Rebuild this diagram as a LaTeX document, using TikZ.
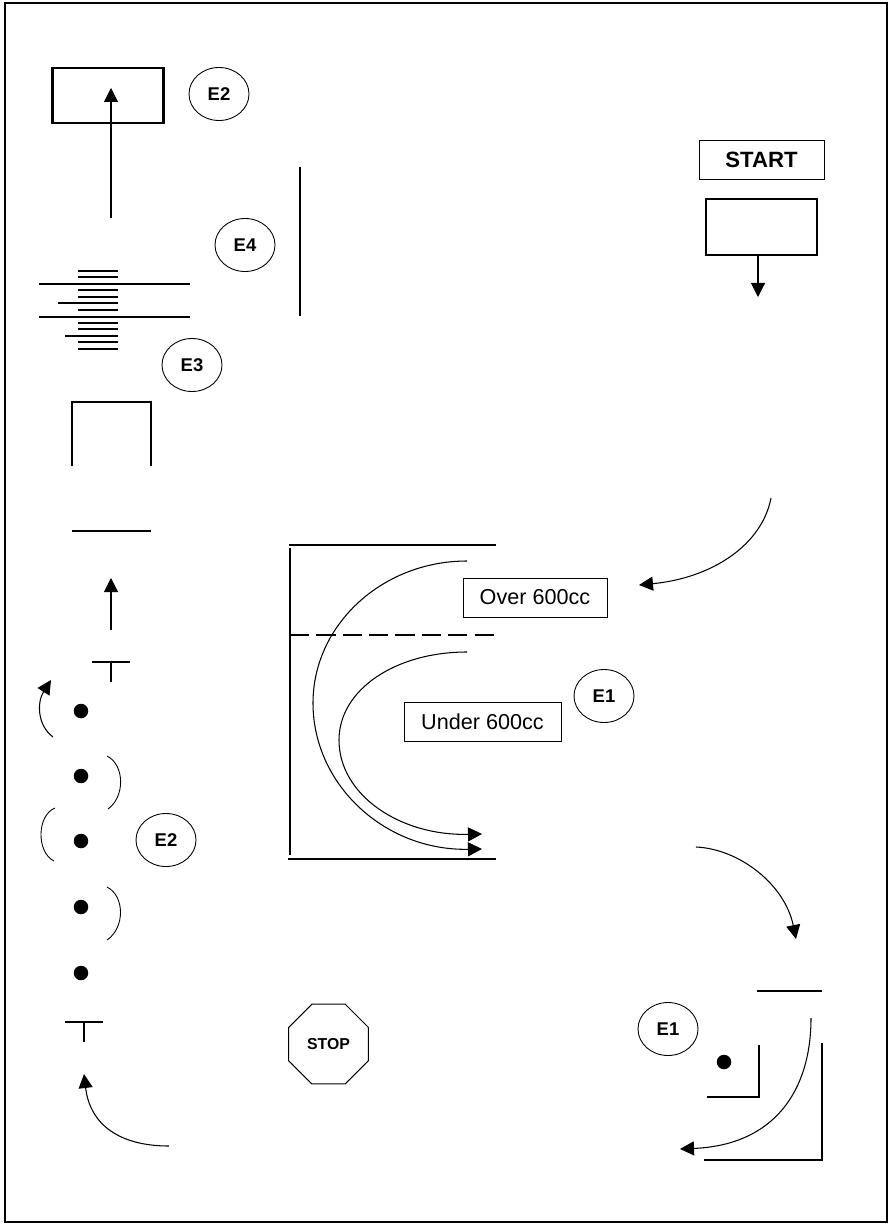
\documentclass[tikz,border=0pt]{standalone}
\usepackage{fontspec}
\setmainfont{Liberation Sans}
\usetikzlibrary{arrows.meta,shapes.geometric}

\begin{document}
\begin{tikzpicture}[x=0.2mm, y=-0.2mm,
    every node/.style={font=\fontsize{12.3pt}{14pt}\selectfont},
    tag/.style={draw, ellipse, line width=0.5pt, minimum width=12mm, minimum height=10.6mm,
                inner sep=0pt, font=\fontsize{10.5pt}{12pt}\selectfont\bfseries},
    block/.style={draw, line width=1.3pt, minimum width=22.2mm, minimum height=11.1mm},
    label/.style={draw, line width=0.45pt, inner sep=0pt, minimum height=7.8mm},
    dot/.style={circle, fill=black, inner sep=0pt, minimum size=2.9mm},
    stopsign/.style={draw, regular polygon, regular polygon sides=8, line width=0.6pt,
                     minimum size=17.3mm, inner sep=0pt,
                     font=\fontsize{9pt}{10pt}\selectfont\bfseries},
    thick line/.style={line width=1.1pt},
    rung/.style={line width=0.8pt},
    arr/.style={-{Triangle[length=2.8mm, width=2.8mm]}, line width=0.6pt}]
  \useasboundingbox (0,0) rectangle (893,1226);
  \draw[line width=1.1pt] (5,3) rectangle (887,1222);

  % start
  \node[label, minimum width=25mm, font=\fontsize{12.6pt}{14pt}\selectfont\bfseries] (start) at (761.5,160) {START};
  \node[block] (top) at (761.5,227) {};
  \coordinate (topend) at (758,297);
  \draw[arr] (top.south -| topend) -- (topend);

  % upper left
  \node[block] (exit) at (108,95.5) {};
  \node[tag] (e2a) at (219,94) {E2};
  \coordinate (rise) at (111,218);
  \coordinate (risetip) at (111,88);
  \draw[arr] (rise) -- (risetip);
  \node[tag] (e4) at (245,245) {E4};
  \node[tag] (e3) at (192,365) {E3};
  \draw[thick line] (300,167) -- (300,316);

  % stack of plates
  \foreach \y in {271,277,290,297,310,323,329,342,349}
    \draw[rung] (78,\y) -- (118,\y);
  \draw[rung] (58,303) -- (118,303);
  \draw[rung] (65,336) -- (118,336);
  \draw[line width=0.8pt] (39,284) -- (190,284);
  \draw[line width=1.4pt] (39,317) -- (190,317);

  \draw[thick line] (72,466) -- (72,402) -- (151,402) -- (151,466);
  \draw[thick line] (72,531) -- (151,531);
  \coordinate (lift) at (111,630);
  \coordinate (lifttip) at (111,578);
  \draw[arr] (lift) -- (lifttip);
  \draw[thick line] (92,662) -- (130,662) (111,662) -- (111,682);

  % column of dots
  \node[dot] (d1) at (81,711) {};
  \node[dot] (d2) at (81,776) {};
  \node[dot] (d3) at (81,841) {};
  \node[dot] (d4) at (81,907) {};
  \node[dot] (d5) at (81,973) {};
  \node[tag] (e2b) at (166,840) {E2};
  \coordinate (hook) at (53,737);
  \coordinate (hooktip) at (51,680);
  \draw[arr] (hook) .. controls (37,725) and (37,702) .. (hooktip);
  \draw[line width=0.5pt] (107,756) .. controls (125,765) and (125,797) .. (108,809);
  \draw[line width=0.5pt] (55,808) .. controls (37,815) and (36,852) .. (54,861);
  \draw[line width=0.5pt] (107,887) .. controls (125,896) and (125,928) .. (107,940);
  \draw[thick line] (65,1022) -- (103,1022) (84,1022) -- (84,1042);
  \coordinate (base) at (169,1146);
  \coordinate (basetip) at (84,1074);
  \draw[arr] (base) .. controls (120,1146) and (90,1125) .. (basetip);

  \node[stopsign] (stop) at (328.5,1044) {STOP};

  % chamber
  \draw[thick line] (289,545) -- (496,545);
  \draw[thick line] (290,548) -- (290,855);
  \draw[thick line] (288,859) -- (496,859);
  \draw[thick line, dash pattern=on 11pt off 4pt] (290,635) -- (494,635);
  \coordinate (over) at (467,561);
  \coordinate (overtip) at (482,849);
  \coordinate (under) at (467,652);
  \coordinate (undertip) at (482,834);
  \draw[arr] (over) .. controls (382,561) and (313,625) .. (313,703)
    .. controls (313,785) and (385,851) .. (overtip);
  \draw[arr] (under) .. controls (395,652) and (339,690) .. (339,740)
    .. controls (339,795) and (400,836) .. (undertip);
  \node[label, minimum width=28.8mm] (over600) at (535,597.5) {Over 600cc};
  \node[label, minimum width=31.4mm] (under600) at (482.5,721.5) {Under 600cc};
  \node[tag] (e1a) at (604,696) {E1};

  % right side
  \coordinate (in) at (771,498);
  \coordinate (intip) at (639,585);
  \draw[arr] (in) .. controls (762,545) and (712,578) .. (intip);
  \coordinate (out) at (696,847);
  \coordinate (outtip) at (796,939);
  \draw[arr] (out) .. controls (740,849) and (785,885) .. (outtip);
  \draw[thick line] (757,991) -- (822,991);
  \coordinate (turn) at (811,1018);
  \coordinate (turntip) at (680,1149);
  \draw[arr] (turn) .. controls (811,1090) and (775,1145) .. (turntip);
  \draw[thick line] (759,1045) -- (759,1097) -- (707,1097);
  \draw[thick line] (822,1043) -- (822,1160) -- (704,1160);
  \node[dot] (d6) at (724,1062) {};
  \node[tag] (e1b) at (668,1029) {E1};
\end{tikzpicture}
\end{document}
